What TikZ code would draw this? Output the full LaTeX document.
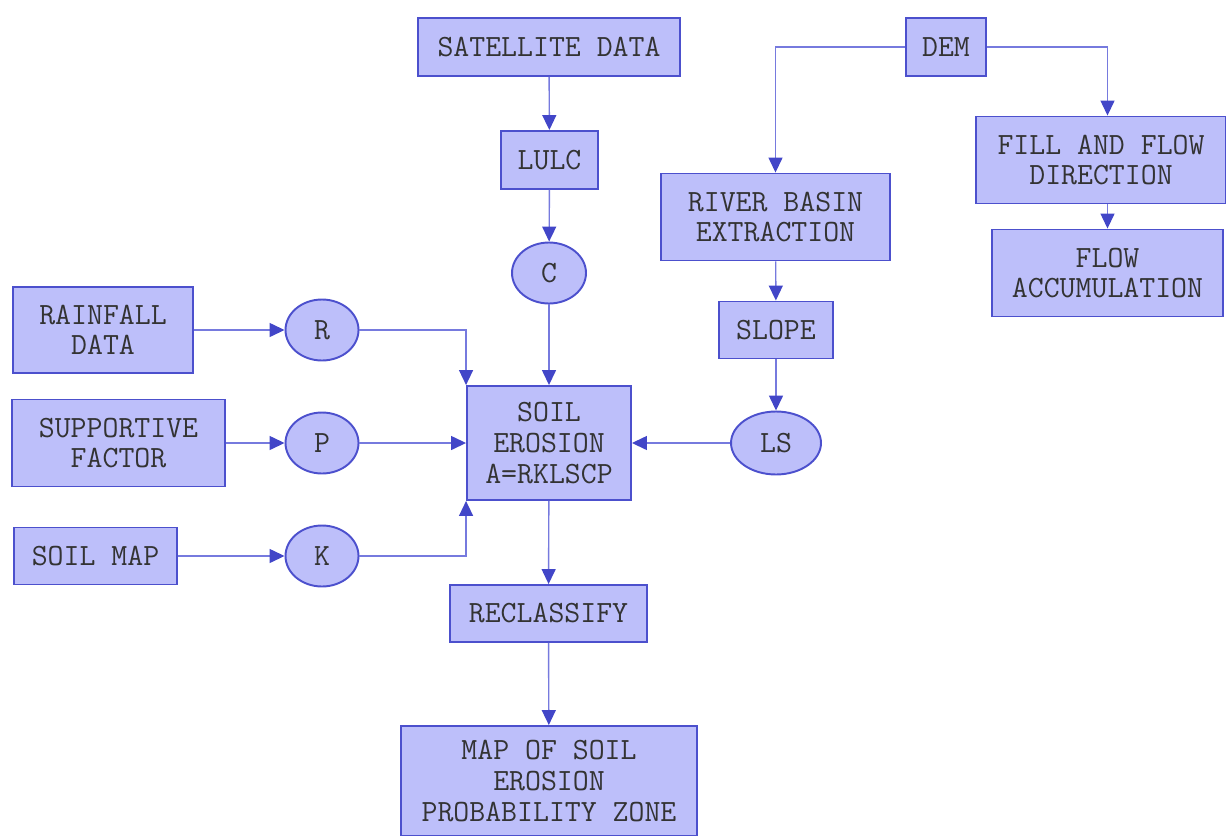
\documentclass[tikz,border=0pt]{standalone}
\usepackage{fontspec}
\usepackage{tikz}
\usetikzlibrary{arrows.meta,shapes.geometric}

\definecolor{boxfill}{RGB}{189,191,250}
\definecolor{boxline}{RGB}{76,80,205}
\definecolor{linkline}{RGB}{118,122,222}
\definecolor{tipblue}{RGB}{66,70,200}
\definecolor{txt}{RGB}{51,51,51}

\tikzset{
  box/.style={draw=boxline, fill=boxfill, line width=1.1pt, inner sep=0pt,
    align=center, text=txt, font=\ttfamily\fontsize{17.6}{17.4}\selectfont},
  oval/.style={box, ellipse},
  link/.style={draw=linkline, line width=0.8pt,
    -{Triangle[length=0.3cm,width=0.28cm,color=tipblue]}}
}

\begin{document}
\begin{tikzpicture}[x=0.02cm, y=-0.02cm]
\useasboundingbox (0,0) rectangle (1226,835);
% sources
\node[box, minimum width=5.24cm, minimum height=1.16cm] (sat) at (549,47) {SATELLITE DATA};
\node[box, minimum width=1.6cm, minimum height=1.16cm] (dem) at (946,47) {DEM};
\node[box, minimum width=3.6cm, minimum height=1.72cm] (rain) at (103,330) {RAINFALL\\DATA};
\node[box, minimum width=4.26cm, minimum height=1.74cm] (supp) at (118.5,443) {SUPPORTIVE\\FACTOR};
\node[box, minimum width=3.26cm, minimum height=1.14cm] (soilmap) at (95.5,556) {SOIL MAP};
% processing
\node[box, minimum width=1.94cm, minimum height=1.16cm] (lulc) at (549.5,160) {LULC};
\node[box, minimum width=4.58cm, minimum height=1.74cm] (river) at (775.5,217) {RIVER BASIN\\EXTRACTION};
\node[box, minimum width=5.0cm, minimum height=1.74cm] (fill) at (1101,160) {FILL AND FLOW\\DIRECTION};
\node[box, minimum width=4.62cm, minimum height=1.74cm] (flowacc) at (1107.5,273) {FLOW\\ACCUMULATION};
\node[box, minimum width=2.28cm, minimum height=1.14cm] (slope) at (776,330) {SLOPE};
% factors
\node[oval, minimum width=1.48cm, minimum height=1.22cm] (c) at (549,273) {C};
\node[oval, minimum width=1.8cm, minimum height=1.26cm] (ls) at (776,443) {LS};
\node[oval, minimum width=1.46cm, minimum height=1.22cm] (r) at (322,330) {R};
\node[oval, minimum width=1.46cm, minimum height=1.22cm] (p) at (322,443) {P};
\node[oval, minimum width=1.46cm, minimum height=1.22cm] (k) at (322,556) {K};
% result
\node[box, minimum width=3.28cm, minimum height=2.28cm] (soil) at (549,443) {SOIL\\EROSION\\A=RKLSCP};
\node[box, minimum width=3.94cm, minimum height=1.14cm] (recl) at (548.5,613.5) {RECLASSIFY};
\node[box, minimum width=5.92cm, minimum height=2.2cm] (map) at (549,781) {MAP OF SOIL\\EROSION\\PROBABILITY ZONE};

\draw[link] (sat) -- (lulc);
\draw[link] (lulc) -- (c);
\draw[link] (c) -- (soil);
\draw[link] (dem.west) -| (river.north);
\draw[link] (dem.east) -| (flowacc.north |- fill.north);
\draw[link] (flowacc.north |- fill.south) -- (flowacc.north);
\draw[link] (river) -- (slope);
\draw[link] (slope) -- (ls);
\draw[link] (ls) -- (soil);
\draw[link] (rain) -- (r);
\draw[link] (supp) -- (p);
\draw[link] (soilmap) -- (k);
\draw[link] (r.east) -| (soil.north west);
\draw[link] (p) -- (soil);
\draw[link] (k.east) -| (soil.south west);
\draw[link] (soil) -- (recl);
\draw[link] (recl) -- (map);
\end{tikzpicture}
\end{document}
